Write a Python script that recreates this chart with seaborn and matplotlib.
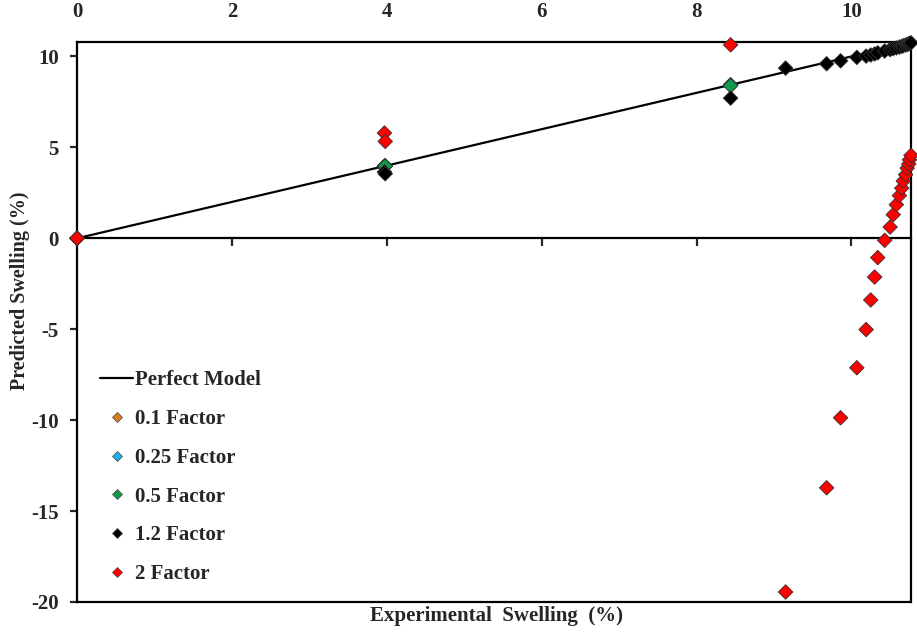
import matplotlib
matplotlib.use("Agg")
import matplotlib.pyplot as plt
from matplotlib.lines import Line2D
import numpy as np
import pandas as pd
import seaborn as sns

# Experimental swelling (%) for each sample
experimental = [0.0, 3.97, 3.98, 8.44, 9.15, 9.68, 9.86, 10.07, 10.19, 10.25,
                10.30, 10.34, 10.43, 10.50, 10.54, 10.58, 10.62, 10.65, 10.67,
                10.70, 10.72, 10.74, 10.75, 10.77]

# Predicted swelling (%) for each correction factor
pred_01 = [0.0, 3.97, 3.98, 8.44]
pred_025 = [0.0, 3.97, 3.98, 8.44]
pred_05 = [0.0, 3.96, 3.97, 8.39]
pred_12 = [0.0, 3.65, 3.55, 7.71, 9.36, 9.60, 9.76, 9.95, 10.02, 10.08,
           10.14, 10.20, 10.30, 10.38, 10.43, 10.47, 10.52, 10.56, 10.59,
           10.63, 10.66, 10.69, 10.72, 10.75]
pred_2 = [0.0, 5.79, 5.33, 10.64, -19.45, -13.72, -9.87, -7.12, -5.02, -3.39,
          -2.13, -1.06, -0.11, 0.62, 1.30, 1.85, 2.35, 2.76, 3.15, 3.50,
          3.86, 4.08, 4.32, 4.56]

series_names = ["0.1 Factor", "0.25 Factor", "0.5 Factor", "1.2 Factor", "2 Factor"]
series_values = [pred_01, pred_025, pred_05, pred_12, pred_2]
series_colors = ["#D97A1E", "#22AEE6", "#129A4A", "#000000", "#FF0000"]

perfect_x = [0.0, 10.77]
perfect_y = [0.0, 10.77]

x_ticks = [0, 2, 4, 6, 8, 10]
y_ticks = [-20, -15, -10, -5, 0, 5, 10]

frames = []
for name, vals in zip(series_names, series_values):
    frames.append(pd.DataFrame({"Experimental": experimental[:len(vals)],
                                "Predicted": vals, "Series": name}))
df = pd.concat(frames, ignore_index=True)
line_df = pd.DataFrame({"Experimental": perfect_x, "Predicted": perfect_y})

sns.set_style("ticks")
plt.rcParams["font.family"] = ["Liberation Serif", "DejaVu Serif"]
plt.rcParams["font.weight"] = "bold"
plt.rcParams["axes.unicode_minus"] = False

fig = plt.figure(figsize=(9.17, 6.32), dpi=100)
ax = fig.add_axes([0.084, 0.0475, 0.9095, 0.8853])

sns.lineplot(data=line_df, x="Experimental", y="Predicted", color="black",
             linewidth=1.6, ax=ax, legend=False)
sns.scatterplot(data=df, x="Experimental", y="Predicted", hue="Series",
                hue_order=series_names, palette=series_colors, marker="D",
                s=55, edgecolor="#333333", linewidth=0.6, ax=ax, legend=False,
                clip_on=False, zorder=3)

ax.set_xlim(0, 10.77)
ax.set_ylim(-20, 10.77)
ax.set_xticks(x_ticks)
ax.set_yticks(y_ticks)

# x axis runs through y = 0, with its labels along the top edge
ax.spines["bottom"].set_position(("data", 0))
for side in ["left", "right", "top", "bottom"]:
    ax.spines[side].set_linewidth(1.6)
    ax.spines[side].set_color("black")
ax.axhline(-20, color="black", linewidth=1.6, clip_on=False, zorder=4)

ax.tick_params(axis="x", which="both", bottom=True, top=False,
               labelbottom=False, labeltop=True, direction="out",
               length=6, width=1.6, pad=8.5, labelsize=15)
ax.tick_params(axis="y", direction="out", length=5, width=1.6, pad=8,
               labelsize=15)
for lab in ax.get_xticklabels() + ax.get_yticklabels():
    lab.set_fontweight("bold")

ax.set_xlabel("")
ax.set_ylabel("")
fig.text(0.541, 0.025, "Experimental  Swelling  (%)", ha="center", va="center",
         fontsize=15, fontweight="bold")
fig.text(0.022, 0.54, "Predicted Swelling (%)", ha="center", va="center",
         rotation=90, fontsize=14.5, fontweight="bold")

handles = [Line2D([0], [0], color="black", linewidth=1.6)]
for c in series_colors:
    handles.append(Line2D([0], [0], linestyle="none", marker="D", markersize=5.5,
                          markerfacecolor=c, markeredgecolor="#444444",
                          markeredgewidth=0.5))
labels = ["Perfect Model"] + series_names
ax.legend(handles, labels, loc="upper left", bbox_to_anchor=(0.0276, 0.414),
          frameon=False, borderpad=0, borderaxespad=0, handlelength=1.6,
          handletextpad=0.1, labelspacing=0.9,
          prop={"size": 15, "weight": "bold"})

fig.savefig("out.png", dpi=100)
